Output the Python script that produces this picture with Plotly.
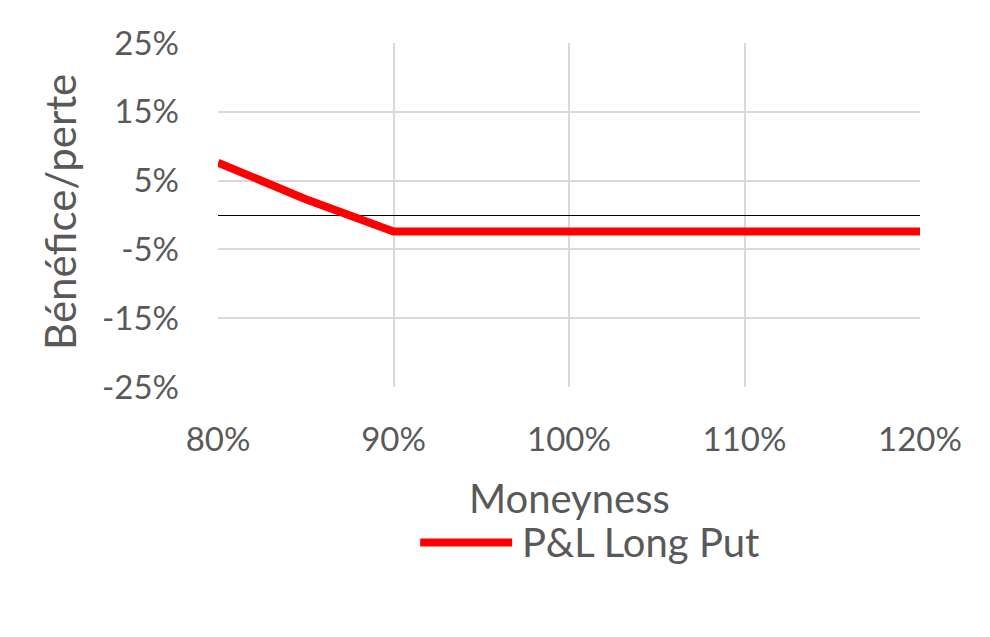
import plotly.graph_objects as go

moneyness = [0.80, 0.85, 0.90, 0.95, 1.00, 1.05, 1.10, 1.15, 1.20]
pnl_long_put = [0.076, 0.023, -0.024, -0.024, -0.024, -0.024, -0.024, -0.024, -0.024]
x_ticks = [0.80, 0.90, 1.00, 1.10, 1.20]
x_labels = ["80%", "90%", "100%", "110%", "120%"]
y_ticks = [-0.25, -0.15, -0.05, 0.05, 0.15, 0.25]
y_labels = ["-25%", "-15%", "-5%", "5%", "15%", "25%"]
series_name = "P&L Long Put"

FONT = "Lato"
GREY = "#595959"
RED = "#ff0000"

fig = go.Figure()
fig.add_trace(go.Scatter(
    x=moneyness, y=pnl_long_put, mode="lines", name=series_name,
    line=dict(color=RED, width=8), showlegend=False,
))

fig.update_layout(
    width=990, height=637,
    paper_bgcolor="white", plot_bgcolor="white",
    margin=dict(l=210, r=78, t=35, b=258, autoexpand=False),
    font=dict(family=FONT, color=GREY, size=33),
    showlegend=False,
    xaxis=dict(
        range=[0.80, 1.20], tickvals=x_ticks, ticktext=x_labels,
        showgrid=True, gridcolor="#d9d9d9", gridwidth=2,
        zeroline=False, showline=False, ticks="", automargin=False,
        ticklabelstandoff=30,
        tickfont=dict(size=33, color=GREY),
    ),
    yaxis=dict(
        range=[-0.25, 0.25], tickvals=y_ticks, ticktext=y_labels,
        showgrid=True, gridcolor="#d9d9d9", gridwidth=2,
        zeroline=True, zerolinecolor="#000000", zerolinewidth=1,
        showline=False, ticks="", automargin=False,
        ticklabelstandoff=38,
        tickfont=dict(size=33, color=GREY),
    ),
    annotations=[
        dict(text="Bénéfice/perte", xref="paper", yref="paper", x=-0.225, y=0.509,
             xanchor="center", yanchor="middle", textangle=-90, showarrow=False,
             font=dict(size=42, color=GREY, family=FONT)),
        dict(text="Moneyness", xref="paper", yref="paper", x=0.501, y=-0.322,
             xanchor="center", yanchor="middle", showarrow=False,
             font=dict(size=40, color=GREY, family=FONT)),
        dict(text=series_name, xref="paper", yref="paper", x=0.430, y=-0.452,
             xanchor="left", yanchor="middle", showarrow=False,
             font=dict(size=40, color=GREY, family=FONT)),
    ],
    shapes=[
        dict(type="line", xref="paper", yref="paper", x0=0.288, x1=0.419,
             y0=-0.452, y1=-0.452, line=dict(color=RED, width=8)),
    ],
)

fig.write_html("out.html")
